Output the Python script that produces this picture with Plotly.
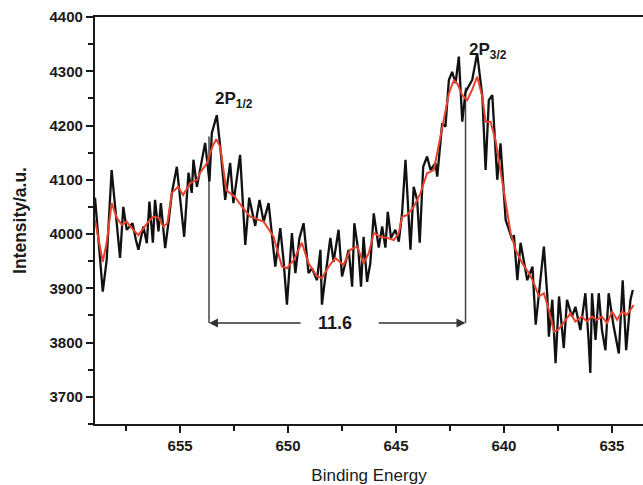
import plotly.graph_objects as go

# raw spectrum (black)
energy = [658.94, 658.58, 658.40, 658.17, 657.78, 657.63, 657.47, 657.20, 657.05, 656.93,
          656.70, 656.54, 656.42, 656.26, 656.16, 656.00, 655.89, 655.69, 655.54, 655.38,
          655.15, 654.81, 654.61, 654.46, 654.38, 654.22, 653.84, 653.64, 653.53, 653.30,
          653.14, 652.91, 652.68, 652.53, 652.22, 651.98, 651.80, 651.52, 651.32, 651.13,
          650.90, 650.59, 650.36, 650.21, 650.05, 649.82, 649.66, 649.47, 649.28, 649.05,
          648.89, 648.66, 648.50, 648.43, 648.27, 648.04, 647.89, 647.66, 647.50, 647.19,
          647.03, 646.93, 646.73, 646.62, 646.50, 646.34, 646.19, 646.03, 645.80, 645.64,
          645.49, 645.38, 645.23, 645.03, 644.87, 644.72, 644.56, 644.33, 644.18, 644.02,
          643.90, 643.74, 643.56, 643.40, 643.17, 643.09, 642.86, 642.71, 642.55, 642.40,
          642.24, 642.09, 641.93, 641.78, 641.47, 641.24, 641.00, 640.85, 640.70, 640.54,
          640.31, 640.16, 639.92, 639.61, 639.54, 639.38, 639.23, 638.92, 638.68, 638.53,
          638.15, 637.99, 637.92, 637.76, 637.61, 637.45, 637.23, 637.08, 636.85, 636.69,
          636.46, 636.23, 636.08, 636.00, 635.92, 635.76, 635.61, 635.46, 635.30, 635.15,
          634.92, 634.68, 634.50, 634.34, 634.14, 634.03]
intensity = [4067, 3894, 3952, 4118, 3956, 4050, 4008, 4020, 3990, 3971,
             4014, 3983, 4060, 3984, 4063, 4005, 4057, 3974, 4020, 4076,
             4124, 3995, 4113, 4076, 4137, 4087, 4168, 4097, 4186, 4219,
             4161, 4063, 4131, 4057, 4146, 3980, 4067, 4015, 4063, 4023,
             4057, 3940, 4011, 3952, 3870, 4002, 3928, 3993, 4020, 3928,
             3937, 3915, 3971, 3870, 3922, 3993, 3949, 4008, 3922, 3971,
             3903, 4020, 3965, 3903, 3995, 3912, 3946, 4038, 3975, 4014,
             3975, 4041, 3993, 4008, 3986, 4038, 4137, 3971, 4087, 4063,
             3984, 4124, 4143, 4118, 4131, 4106, 4204, 4198, 4284, 4299,
             4278, 4327, 4207, 4262, 4284, 4333, 4253, 4118, 4247, 4256,
             4100, 4167, 4026, 3989, 3998, 3915, 3984, 3915, 3940, 3833,
             3977, 3885, 3811, 3879, 3762, 3885, 3790, 3879, 3848, 3866,
             3823, 3891, 3805, 3744, 3891, 3805, 3891, 3823, 3786, 3891,
             3830, 3780, 3915, 3786, 3879, 3897]

# smoothed spectrum (red)
energy_s = [658.94, 658.58, 658.40, 658.17, 657.93, 657.70, 657.47, 657.24, 656.93, 656.70,
            656.47, 656.24, 656.00, 655.77, 655.59, 655.38, 655.09, 654.86, 654.53, 654.21,
            654.07, 653.75, 653.51, 653.33, 653.14, 652.86, 652.45, 652.08, 651.75, 651.13,
            650.67, 650.28, 650.05, 649.74, 649.36, 649.05, 648.66, 648.43, 648.12, 647.81,
            647.43, 647.12, 646.80, 646.50, 646.26, 646.03, 645.72, 645.41, 645.10, 644.87,
            644.72, 644.49, 644.18, 643.87, 643.56, 643.25, 643.02, 642.79, 642.55, 642.32,
            642.17, 641.93, 641.70, 641.47, 641.24, 641.00, 640.85, 640.62, 640.39, 640.16,
            639.92, 639.69, 639.46, 639.15, 638.84, 638.61, 638.38, 638.15, 637.92, 637.68,
            637.45, 637.16, 636.92, 636.69, 636.39, 636.16, 635.92, 635.69, 635.46, 635.22,
            634.99, 634.76, 634.53, 634.30, 634.07, 633.99]
intensity_s = [4026, 3949, 3984, 4057, 4030, 4017, 4023, 4011, 3998, 4011,
               4023, 4032, 4030, 4014, 4020, 4076, 4087, 4072, 4094, 4100,
               4113, 4131, 4160, 4175, 4161, 4081, 4068, 4048, 4032, 4023,
               3995, 3940, 3937, 3952, 3984, 3946, 3922, 3919, 3940, 3956,
               3943, 3971, 3977, 3946, 3965, 4002, 3995, 3993, 3989, 4002,
               4032, 4035, 4050, 4075, 4112, 4118, 4161, 4210, 4259, 4284,
               4278, 4256, 4247, 4266, 4290, 4253, 4207, 4207, 4173, 4118,
               4057, 4002, 3971, 3946, 3928, 3909, 3885, 3891, 3860, 3820,
               3825, 3842, 3854, 3839, 3848, 3839, 3848, 3842, 3848, 3836,
               3857, 3842, 3857, 3851, 3866, 3869]

peak_12 = 653.66
peak_32 = 641.78
split = 11.6
arrow_y = 3836

font = "Arial, Liberation Sans, sans-serif"
ink = "#1a1a1a"
axc = "#1a1a1a"

fig = go.Figure()
fig.add_trace(go.Scatter(x=energy, y=intensity, mode='lines',
                         line=dict(color='#111111', width=2.3)))
fig.add_trace(go.Scatter(x=energy_s, y=intensity_s, mode='lines',
                         line=dict(color='#e8432e', width=2)))

# vertical guide lines at the peaks
fig.add_shape(type='line', x0=peak_12, x1=peak_12, y0=arrow_y, y1=4180,
              line=dict(color='#444444', width=1.5), layer='below')
fig.add_shape(type='line', x0=peak_32, x1=peak_32, y0=arrow_y, y1=4270,
              line=dict(color='#444444', width=1.5), layer='below')

# arrows + splitting value
fig.add_annotation(x=peak_12, y=arrow_y, ax=649.35, ay=arrow_y, xref='x', yref='y',
                   axref='x', ayref='y', text='', showarrow=True, arrowhead=2,
                   arrowsize=1.2, arrowwidth=1.5, arrowcolor='#333333', standoff=0)
fig.add_annotation(x=peak_32, y=arrow_y, ax=645.87, ay=arrow_y, xref='x', yref='y',
                   axref='x', ayref='y', text='', showarrow=True, arrowhead=2,
                   arrowsize=1.2, arrowwidth=1.5, arrowcolor='#333333', standoff=0)
fig.add_annotation(x=647.83, y=arrow_y, text='<b>%.1f</b>' % split, showarrow=False,
                   font=dict(family=font, size=18, color=ink))

fig.add_annotation(x=653.47, y=4224, text='<b>2P<sub>1/2</sub></b>', showarrow=False,
                   xanchor='left', yanchor='bottom', font=dict(family=font, size=17, color=ink))
fig.add_annotation(x=641.72, y=4314, text='<b>2P<sub>3/2</sub></b>', showarrow=False,
                   xanchor='left', yanchor='bottom', font=dict(family=font, size=17, color=ink))

fig.update_layout(
    width=643, height=485,
    margin=dict(l=95, r=0, t=17, b=61, autoexpand=False),
    paper_bgcolor='white', plot_bgcolor='white',
    showlegend=False,
    font=dict(family=font, color=ink),
)
fig.update_xaxes(range=[658.94, 633.56], tickvals=[655, 650, 645, 640, 635],
                 automargin=False,
                 ticks='outside', ticklen=7, tickwidth=2, tickcolor=axc,
                 minor=dict(tickvals=[657.5, 652.5, 647.5, 642.5, 637.5], ticks='outside',
                            ticklen=5, tickwidth=2, tickcolor=axc),
                 showline=True, linewidth=2.2, linecolor=axc, mirror=True,
                 showgrid=False, zeroline=False,
                 tickfont=dict(family=font, size=15, color=ink, weight='bold'),
                 title=dict(text='Binding Energy',
                            font=dict(family=font, size=17, color=ink, weight=500),
                            standoff=17))
fig.update_yaxes(range=[3650, 4400], dtick=100, tick0=3700,
                 automargin=False,
                 ticks='outside', ticklen=7, tickwidth=2, tickcolor=axc,
                 minor=dict(dtick=50, tick0=3650, ticks='outside', ticklen=5, tickwidth=2,
                            tickcolor=axc),
                 showline=True, linewidth=2.2, linecolor=axc,
                 showgrid=False, zeroline=False,
                 tickfont=dict(family=font, size=15, color=ink, weight='bold'),
                 title=dict(text='<b>Intensity/a.u.</b>', font=dict(family=font, size=17.5, color=ink),
                            standoff=18))

fig.write_html("out.html", config={'displayModeBar': False},
               post_script="document.body.style.margin='0';")
